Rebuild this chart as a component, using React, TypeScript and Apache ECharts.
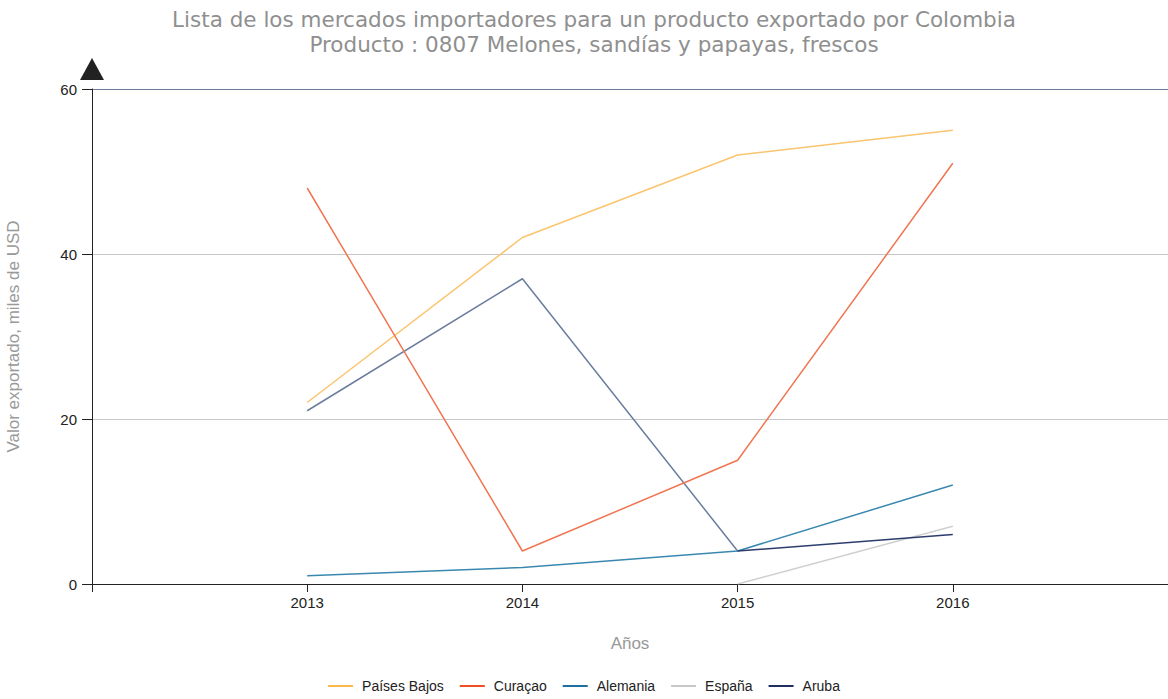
import React, { useEffect, useRef } from "react";
import * as echarts from "echarts";

const years = [2013, 2014, 2015, 2016];
const seriesNames = ["Países Bajos", "Curaçao", "Alemania", "España", "Aruba"];
const paisesBajos = [22, 42, 52, 55];
const curacao = [48, 4, 15, 51];
const alemania = [1, 2, 4, 12];
const espana = [null, null, 0, 7];
const aruba = [null, null, 4, 6];
const arubaEarly = [21, 37, 4, null];
const yTicks = [0, 20, 40, 60];

const lineColors = ["#fbc46e", "#f07550", "#3a88b0", "#cfcfcf", "#2c3c6c"];
const legendColors = ["#fdb84a", "#f04e23", "#1f6f9f", "#c8c8c8", "#1f2f5f"];

function pairs(vals: (number | null)[]) {
  return years.map((y, i) => [y, vals[i]]);
}

export default function App() {
  const ref = useRef<HTMLDivElement>(null);
  useEffect(() => {
    if (!ref.current) return;
    const chart = echarts.init(ref.current, null, { renderer: "svg" });
    const data = [paisesBajos, curacao, alemania, espana, aruba];
    const series: any[] = data.map((d, i) => ({
      name: seriesNames[i],
      type: "line",
      data: pairs(d),
      showSymbol: false,
      symbol: "none",
      connectNulls: false,
      lineStyle: { color: lineColors[i], width: 1.5 },
      itemStyle: { color: legendColors[i] },
      z: 2 + i,
    }));
    series.push({
      name: "Aruba-prev",
      type: "line",
      data: pairs(arubaEarly),
      symbol: "none",
      lineStyle: { color: "#6b7d9c", width: 1.5 },
      itemStyle: { color: "#6b7d9c" },
      z: 1,
    });
    chart.setOption({
      animation: false,
      title: {
        text: "Lista de los mercados importadores para un producto exportado por Colombia\nProducto : 0807 Melones, sandías y papayas, frescos",
        left: 589,
        textAlign: "center",
        top: 2,
        textStyle: {
          fontFamily: "DejaVu Sans",
          fontSize: 21.5,
          fontWeight: "normal",
          color: "#8f8f8f",
          lineHeight: 25,
        },
      },
      legend: {
        data: seriesNames,
        bottom: 1,
        left: "center",
        icon: "rect",
        itemWidth: 25,
        itemHeight: 2,
        itemGap: 16,
        textStyle: { fontFamily: "Liberation Sans", fontSize: 14, color: "#222", padding: [0, 0, 0, 4] },
      },
      grid: { left: 92, right: 0, top: 89, bottom: 115, containLabel: false, outerBoundsMode: "none" },
      xAxis: {
        type: "value",
        min: 2012,
        max: 2017,
        interval: 1,
        name: "Años",
        nameLocation: "middle",
        nameGap: 51,
        nameTextStyle: { fontFamily: "Liberation Sans", fontSize: 17, color: "#999" },
        axisLine: { show: true, lineStyle: { color: "#222", width: 1 } },
        axisTick: { show: true, length: 8, lineStyle: { color: "#222" } },
        axisLabel: {
          fontFamily: "Liberation Sans",
          fontSize: 15,
          color: "#222",
          margin: 11,
          formatter: (v: number) => (years.includes(v) ? String(v) : ""),
        },
        splitLine: { show: false },
      },
      yAxis: {
        type: "value",
        min: 0,
        max: 60,
        interval: 20,
        name: "Valor exportado, miles de USD",
        nameLocation: "middle",
        nameGap: 70,
        nameTextStyle: { fontFamily: "Liberation Sans", fontSize: 17, color: "#999" },
        axisLine: {
          show: true,
          lineStyle: { color: "#222", width: 1 },
          symbol: ["none", "triangle"],
          symbolSize: [24, 22],
          symbolOffset: [0, 20],
        },
        axisTick: { show: true, length: 10, lineStyle: { color: "#222" } },
        axisLabel: {
          fontFamily: "Liberation Sans",
          fontSize: 15,
          color: "#222",
          margin: 15,
          formatter: (v: number) => (yTicks.includes(v) ? String(v) : ""),
        },
        splitLine: {
          show: true,
          lineStyle: { color: ["#c8c8c8", "#c8c8c8", "#c8c8c8", "#6e7f99"], width: 1 },
        },
      },
      series,
    });
    return () => chart.dispose();
  }, []);
  return <div ref={ref} style={{ width: 1168, height: 699, position: "absolute", left: 0, top: 0 }} />;
}
